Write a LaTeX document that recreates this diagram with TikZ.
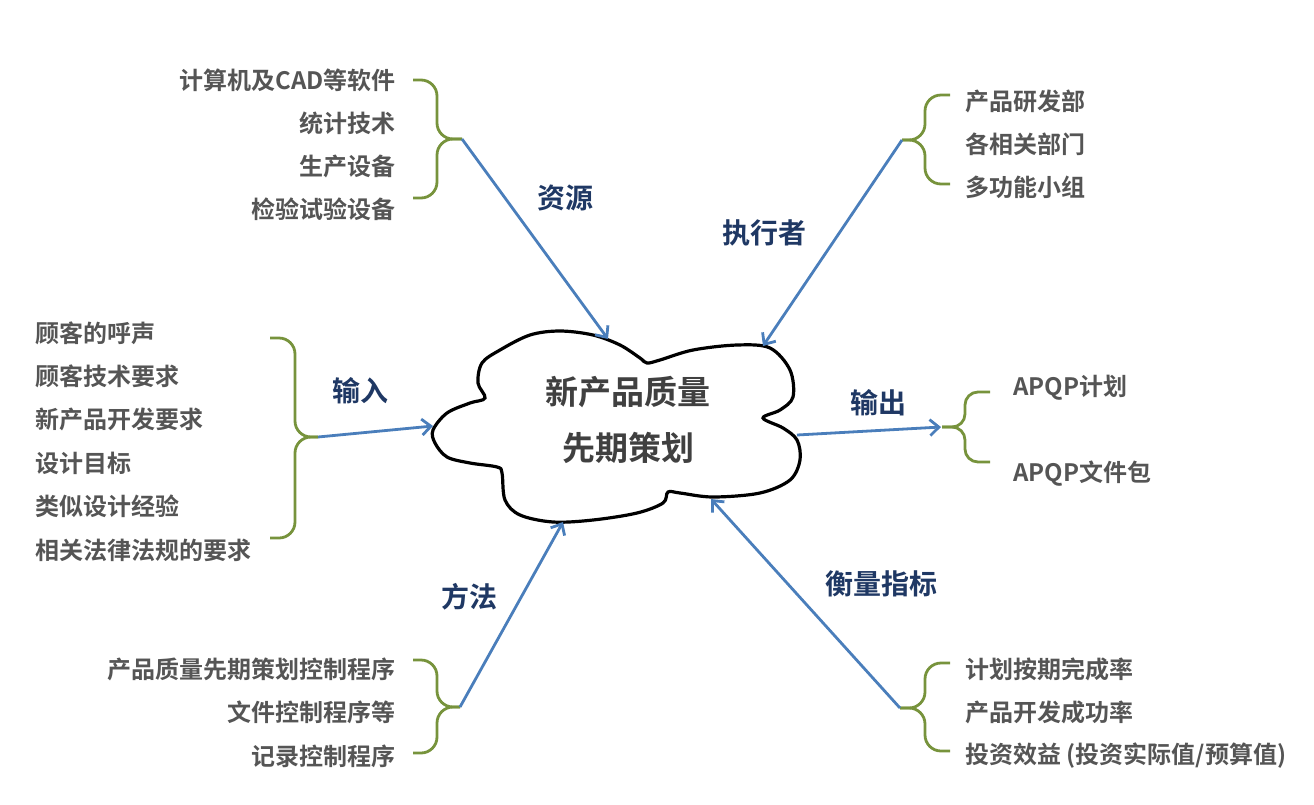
\documentclass[tikz,border=0pt]{standalone}
\usepackage{fontspec}
\setmainfont{Noto Sans CJK SC}[BoldFont={Noto Sans CJK SC Bold}]
\usepackage{xcolor}
\usetikzlibrary{arrows.meta}

\definecolor{itemgray}{HTML}{555555}
\definecolor{coregray}{HTML}{404040}
\definecolor{labnavy}{HTML}{1F3864}
\definecolor{feedblue}{HTML}{4A7EBB}
\definecolor{bracegreen}{HTML}{77933C}

\begin{document}
\begin{tikzpicture}[
  x=1pt, y=-1pt,
  item/.style={font=\fontsize{24}{28}\selectfont\bfseries, text=itemgray, inner sep=0pt},
  lab/.style={font=\fontsize{28}{32}\selectfont\bfseries, text=labnavy, inner sep=0pt},
  core/.style={font=\fontsize{33}{56}\selectfont\bfseries, text=coregray, align=center, inner sep=0pt},
  feed/.style={draw=feedblue, line width=2.8pt, -{Straight Barb[length=9pt,width=16pt]}},
  curly/.style={draw=bracegreen, line width=2.8pt, rounded corners=16pt}
]
\useasboundingbox (0,0) rectangle (1314,804);

% central cloud
\draw[line width=3.2pt, fill=white] plot[smooth cycle, tension=0.55] coordinates {
  (433,430) (447,413) (470,403) (485,398) (478,383) (482,363) (500,350)
  (530,335) (560,331) (593,335) (620,345) (640,358) (647,363) (660,360)
  (693,350) (737,345) (770,348) (790,370) (793,397) (780,410) (763,418)
  (783,428) (797,440) (800,460) (790,480) (760,493) (713,497) (680,493)
  (668,492) (663,503) (637,513) (593,520) (553,522) (520,515) (505,500)
  (502,473) (497,467) (470,463) (447,457) (435,443)};
\node[core] (core) at (628,420) {新产品质量\\先期策划};

% points on the cloud
\coordinate (cRes) at (608,339);
\coordinate (cExe) at (763,346);
\coordinate (cIn) at (433,426);
\coordinate (cOut) at (797,435);
\coordinate (cMet) at (563,522);
\coordinate (cMea) at (711,499);

% resources
\foreach \t [count=\i] in {计算机及CAD等软件, 统计技术, 生产设备, 检验试验设备}
  \node[item, anchor=east] (res\i) at (396,{80+43*(\i-1)}) {\t};
\draw[curly] (413,80) -- (437,80) -- (437,139) -- (462,139);
\draw[curly] (413,198) -- (437,198) -- (437,139) -- (462,139);
\coordinate (resTip) at (462,139);
\node[lab] (resLab) at (565,198) {资源};
\draw[feed] (resTip) -- (cRes);

% executors
\foreach \t [count=\i] in {产品研发部, 各相关部门, 多功能小组}
  \node[item, anchor=west] (exe\i) at (965,{101+43*(\i-1)}) {\t};
\draw[curly] (950,95) -- (925,95) -- (925,140) -- (902,140);
\draw[curly] (950,184) -- (925,184) -- (925,140) -- (902,140);
\coordinate (exeTip) at (902,140);
\node[lab] (exeLab) at (764,233) {执行者};
\draw[feed] (exeTip) -- (cExe);

% inputs
\foreach \t [count=\i] in {顾客的呼声, 顾客技术要求, 新产品开发要求, 设计目标, 类似设计经验, 相关法律法规的要求}
  \node[item, anchor=west] (in\i) at (35,{333+43.4*(\i-1)}) {\t};
\draw[curly] (270,338) -- (295,338) -- (295,437) -- (318,437);
\draw[curly] (270,538) -- (295,538) -- (295,437) -- (318,437);
\coordinate (inTip) at (318,437);
\node[lab] (inLab) at (360,391) {输入};
\draw[feed] (inTip) -- (cIn);

% outputs
\node[item, anchor=west] (out1) at (1013,388) {APQP计划};
\node[item, anchor=west] (out2) at (1013,474) {APQP文件包};
\draw[curly, rounded corners=13pt] (990,392) -- (965,392) -- (965,427) -- (942,427);
\draw[curly, rounded corners=13pt] (990,462) -- (965,462) -- (965,427) -- (942,427);
\coordinate (outTip) at (941,427);
\node[lab] (outLab) at (878,403) {输出};
\draw[feed] (cOut) -- (outTip);

% methods
\foreach \t [count=\i] in {产品质量先期策划控制程序, 文件控制程序等, 记录控制程序}
  \node[item, anchor=east] (met\i) at (396,{669+43.5*(\i-1)}) {\t};
\draw[curly] (413,660) -- (437,660) -- (437,707) -- (460,707);
\draw[curly] (413,753) -- (437,753) -- (437,707) -- (460,707);
\coordinate (metTip) at (460,707);
\node[lab] (metLab) at (469,597) {方法};
\draw[feed] (metTip) -- (cMet);

% measures
\foreach \t [count=\i] in {计划按期完成率, 产品开发成功率, 投资效益 (投资实际值/预算值)}
  \node[item, anchor=west] (mea\i) at (965,{669+43.5*(\i-1)}) {\t};
\draw[curly] (950,663) -- (925,663) -- (925,708) -- (900,708);
\draw[curly] (950,751) -- (925,751) -- (925,708) -- (900,708);
\coordinate (meaTip) at (900,708);
\node[lab] (meaLab) at (881,584) {衡量指标};
\draw[feed] (meaTip) -- (cMea);
\end{tikzpicture}
\end{document}
